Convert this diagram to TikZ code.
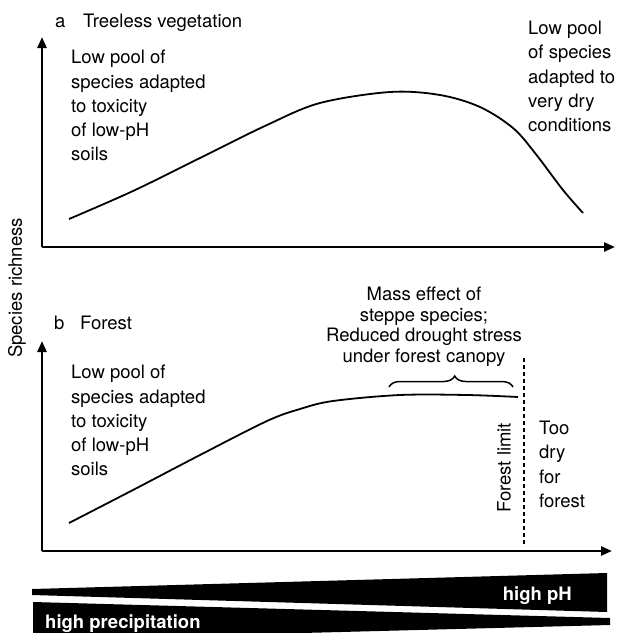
\documentclass[tikz,border=0pt]{standalone}
\usepackage{fontspec}
\setmainfont{TeX Gyre Heros}
\usetikzlibrary{arrows.meta,decorations.pathreplacing}
\begin{document}
\begin{tikzpicture}[x=1pt,y=-1pt,
  axis/.style={line width=2.6pt,-{Triangle[length=11pt,width=9pt]}},
  curve/.style={line width=1.8pt},
  lbl/.style={inner sep=0pt,font=\fontsize{18.5}{24.3}\selectfont,align=left},
  mass/.style={inner sep=0pt,font=\fontsize{18.5}{20.5}\selectfont,align=center},
  wedge/.style={fill=black,draw=none},
  wlbl/.style={inner sep=0pt,text=white,font=\fontsize{18.5}{22}\selectfont\bfseries},
  limit/.style={line width=1.5pt,dash pattern=on 4pt off 3pt},
  brace/.style={line width=1.5pt,decorate,decoration={brace,amplitude=11pt,aspect=0.53}}
]
\useasboundingbox (0,0) rectangle (618,633);

% panel a
\coordinate (oa) at (42,247);
\coordinate (ya) at (42,37);
\coordinate (xa) at (615,247);
\draw[axis] (oa) -- (ya);
\draw[axis] (oa) -- (xa);
\node[lbl,anchor=base west] (alab) at (55,27) {a};
\node[lbl,anchor=base west] (atitle) at (83,27) {Treeless vegetation};
\node[lbl,anchor=north west] (atxt1) at (71,50) {Low pool of\\species adapted\\to toxicity\\of low-pH\\soils};
\node[lbl,anchor=north west] (atxt2) at (528,21) {Low pool\\of species\\adapted to\\very dry\\conditions};
\draw[curve] plot[smooth,tension=0.55] coordinates {(69,219) (133,191) (200,158) (267,125) (320,103) (390,92) (440,95) (480,107) (513,128) (535,153) (563,190) (583,213)};

% panel b
\coordinate (ob) at (42,551);
\coordinate (yb) at (42,341);
\coordinate (xb) at (612,551);
\draw[axis] (ob) -- (yb);
\draw[axis] (ob) -- (xb);
\node[lbl,anchor=base west] (blab) at (54,329) {b};
\node[lbl,anchor=base west] (btitle) at (80,329) {Forest};
\node[lbl,anchor=north west] (btxt1) at (71,365) {Low pool of\\species adapted\\to toxicity\\of low-pH\\soils};
\draw[curve] plot[smooth,tension=0.55] coordinates {(69,523) (133,490) (200,455) (267,421) (300,409) (333,401) (400,395) (467,395) (518,397)};
\node[mass,anchor=north] (mtxt) at (424,287) {Mass effect of\\steppe species;\\Reduced drought stress\\under forest canopy};
\coordinate (br1) at (389,387);
\coordinate (br2) at (513,387);
\draw[brace] (br1) -- (br2);
\coordinate (d1) at (524,358);
\coordinate (d2) at (524,546);
\draw[limit] (d1) -- (d2);
\node[lbl,rotate=90] (flim) at (504,468) {Forest limit};
\node[lbl,anchor=north west] (dry) at (539,421) {Too\\dry\\for\\forest};

% y label
\node[lbl,rotate=90] (ylab) at (17,288) {Species richness};

% wedges
\fill[wedge] (32,589) -- (607,573) -- (607,612) -- (32,595) -- cycle;
\fill[wedge] (33,602) -- (610,618) -- (610,625) -- (33,640) -- cycle;
\node[wlbl,anchor=base east] (ph) at (572,600) {high pH};
\node[wlbl,anchor=base west] (prec) at (45,628) {high precipitation};
\end{tikzpicture}
\end{document}
